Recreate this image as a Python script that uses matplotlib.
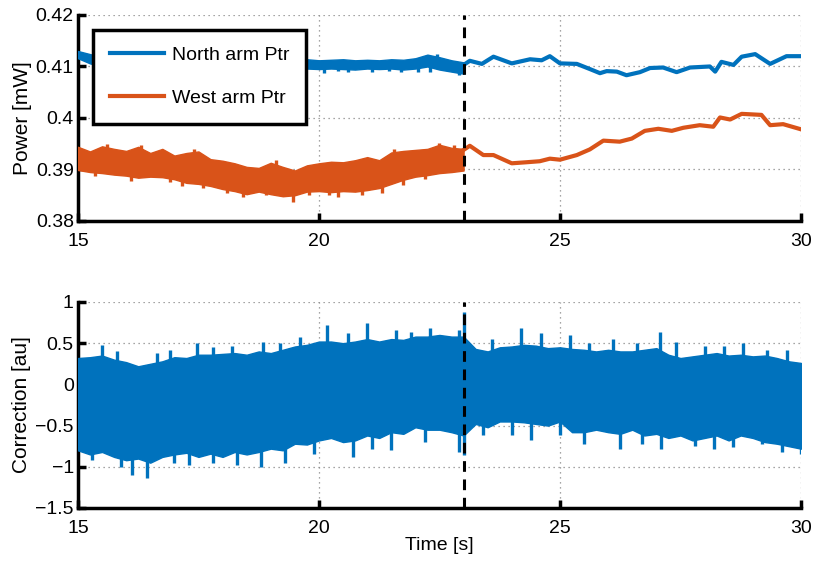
#!/usr/bin/env python3

import numpy as np
from matplotlib import pyplot as plt

blue = "#0072BD"
orange = "#D95319"
tSwitch = 23.0

# --- top panel: noisy part (envelopes read every 0.25 s, 15..23 s)
tBand = [15.0 + 0.25 * i for i in range(33)]

northHi = [0.4130, 0.4124, 0.4118, 0.4115, 0.4114, 0.4115, 0.4113, 0.4114, 0.4115,
           0.4113, 0.4114, 0.4112, 0.4114, 0.4113, 0.4114, 0.4112, 0.4113, 0.4114,
           0.4112, 0.4114, 0.4112, 0.4113, 0.4114, 0.4112, 0.4113, 0.4112, 0.4114,
           0.4113, 0.4116, 0.4123, 0.4118, 0.4112, 0.4108]
northLo = [0.4116, 0.4106, 0.4100, 0.4097, 0.4096, 0.4097, 0.4095, 0.4096, 0.4097,
           0.4095, 0.4096, 0.4095, 0.4096, 0.4095, 0.4096, 0.4095, 0.4096, 0.4095,
           0.4094, 0.4096, 0.4095, 0.4096, 0.4095, 0.4094, 0.4096, 0.4095, 0.4096,
           0.4094, 0.4096, 0.4100, 0.4094, 0.4090, 0.4086]
northSpikes = [[20.1, 0.4088], [20.6, 0.4089], [21.1, 0.4090], [21.7, 0.4089],
               [22.3, 0.4090], [22.9, 0.4083], [22.45, 0.4125], [20.4, 0.4091],
               [21.45, 0.4091], [22.05, 0.4090]]

westHi = [0.3944, 0.3935, 0.3945, 0.3940, 0.3936, 0.3944, 0.3932, 0.3940, 0.3927,
          0.3932, 0.3935, 0.3920, 0.3917, 0.3912, 0.3905, 0.3903, 0.3913, 0.3905,
          0.3898, 0.3908, 0.3912, 0.3915, 0.3914, 0.3918, 0.3924, 0.3918, 0.3933,
          0.3936, 0.3938, 0.3940, 0.3948, 0.3942, 0.3940]
westLo = [0.3899, 0.3895, 0.3893, 0.3890, 0.3888, 0.3884, 0.3886, 0.3885, 0.3881,
          0.3874, 0.3872, 0.3868, 0.3862, 0.3858, 0.3852, 0.3857, 0.3852, 0.3848,
          0.3850, 0.3857, 0.3858, 0.3856, 0.3858, 0.3857, 0.3860, 0.3864, 0.3872,
          0.3880, 0.3886, 0.3889, 0.3893, 0.3895, 0.3898]
westSpikes = [[16.1, 0.3878], [16.9, 0.3876], [17.6, 0.3864], [18.43, 0.3846],
              [18.9, 0.3850], [19.47, 0.3836], [20.4, 0.3847], [20.9, 0.3850],
              [21.3, 0.3855], [21.75, 0.3870], [15.6, 0.3950], [16.3, 0.3948],
              [17.4, 0.3940], [22.5, 0.3952], [15.35, 0.3888], [17.15, 0.3868],
              [18.1, 0.3855], [19.8, 0.3850], [20.2, 0.3850], [22.2, 0.3882],
              [19.1, 0.3918], [21.55, 0.3940], [22.8, 0.3948]]

# --- top panel: after the switch (single traces)
tNorth = [23.0, 23.13, 23.38, 23.62, 24.0, 24.38, 24.62, 24.79, 25.0, 25.35, 25.62,
          25.83, 25.97, 26.18, 26.38, 26.66, 26.87, 27.14, 27.42, 27.7, 28.11, 28.22,
          28.35, 28.6, 28.77, 29.05, 29.36, 29.7, 30.0]
pNorth = [0.4103, 0.4111, 0.4105, 0.4119, 0.4106, 0.4114, 0.4112, 0.4120, 0.4106,
          0.4105, 0.4095, 0.4087, 0.4091, 0.4090, 0.4083, 0.4089, 0.4097, 0.4098,
          0.4089, 0.4098, 0.4100, 0.4090, 0.4109, 0.4103, 0.4119, 0.4124, 0.4105,
          0.4120, 0.4120]
tWest = [23.0, 23.13, 23.41, 23.62, 24.0, 24.3, 24.58, 24.79, 25.0, 25.35, 25.62,
         25.9, 26.24, 26.49, 26.76, 27.04, 27.32, 27.56, 27.9, 28.18, 28.32, 28.53,
         28.77, 29.18, 29.36, 29.63, 30.0]
pWest = [0.3938, 0.3946, 0.3928, 0.3928, 0.3912, 0.3914, 0.3916, 0.3921, 0.3919,
         0.3928, 0.3939, 0.3956, 0.3954, 0.3960, 0.3975, 0.3979, 0.3975, 0.3981,
         0.3986, 0.3983, 0.4001, 0.3997, 0.4008, 0.4006, 0.3986, 0.3988, 0.3978]

# --- bottom panel: correction envelope every 0.25 s, 15..30 s
tCorr = [15.0 + 0.25 * i for i in range(61)]
corrHi = [0.32, 0.33, 0.35, 0.30, 0.27, 0.22, 0.25, 0.28, 0.33, 0.32, 0.36, 0.36,
          0.37, 0.38, 0.36, 0.40, 0.38, 0.42, 0.46, 0.48, 0.52, 0.52, 0.50, 0.52,
          0.55, 0.52, 0.55, 0.54, 0.58, 0.58, 0.60, 0.58, 0.58, 0.43, 0.40, 0.45,
          0.46, 0.48, 0.47, 0.44, 0.45, 0.43, 0.42, 0.40, 0.42, 0.40, 0.40, 0.42,
          0.44, 0.36, 0.32, 0.34, 0.36, 0.38, 0.35, 0.36, 0.34, 0.35, 0.32, 0.28, 0.26]
corrLo = [-0.80, -0.85, -0.82, -0.88, -0.92, -0.90, -0.95, -0.88, -0.85, -0.83,
          -0.88, -0.84, -0.88, -0.82, -0.85, -0.82, -0.78, -0.80, -0.72, -0.73,
          -0.68, -0.65, -0.70, -0.68, -0.62, -0.65, -0.58, -0.60, -0.52, -0.55,
          -0.55, -0.58, -0.62, -0.48, -0.52, -0.45, -0.45, -0.46, -0.48, -0.50,
          -0.45, -0.58, -0.58, -0.55, -0.58, -0.60, -0.55, -0.62, -0.60, -0.65,
          -0.62, -0.68, -0.65, -0.62, -0.68, -0.62, -0.65, -0.70, -0.72, -0.75, -0.78]
corrSpikes = [[15.5, 0.48], [16.65, 0.38], [17.47, 0.50], [17.8, 0.45], [18.84, 0.52],
              [19.6, 0.58], [20.17, 0.72], [20.6, 0.62], [20.99, 0.74], [21.6, 0.66],
              [22.3, 0.68], [22.9, 0.66], [23.0, 0.88], [24.2, 0.68], [24.6, 0.62],
              [25.2, 0.60], [26.1, 0.55], [27.07, 0.64], [27.4, 0.52], [28.0, 0.46],
              [28.8, 0.50], [29.7, 0.42], [15.8, 0.40], [16.9, 0.42], [18.2, 0.46],
              [19.2, 0.50], [21.9, 0.64], [23.6, 0.55], [25.6, 0.50], [26.6, 0.50],
              [28.4, 0.46], [29.3, 0.42],
              [15.9, -1.0], [16.12, -1.10], [16.43, -1.14], [17.3, -0.98], [18.3, -0.98],
              [18.8, -1.0], [19.3, -0.95], [20.7, -0.88], [21.5, -0.80], [22.9, -0.82],
              [23.0, -0.86], [24.0, -0.62], [24.4, -0.68], [25.5, -0.72], [26.24, -0.78],
              [27.1, -0.79], [27.8, -0.75], [28.6, -0.76], [29.2, -0.72], [30.0, -0.84],
              [15.3, -0.92], [17.0, -0.95], [17.8, -0.96], [19.9, -0.85], [21.1, -0.78],
              [22.2, -0.70], [23.4, -0.62], [25.0, -0.62], [26.7, -0.72], [28.2, -0.78],
              [29.6, -0.82]]

plt.rcParams["font.family"] = ["Liberation Sans", "DejaVu Sans"]
plt.rcParams["font.size"] = 13

fig = plt.figure(figsize=(8.13, 5.63), dpi=100)
axTop = fig.add_axes([0.0959, 0.6075, 0.8893, 0.3659])
axBot = fig.add_axes([0.0959, 0.0977, 0.8893, 0.3659])


def drawBand(ax, t, lo, hi, spikes, color):
    ax.fill_between(t, lo, hi, color=color, lw=1.0, edgecolor=color, zorder=3)
    mid = (np.array(lo) + np.array(hi)) / 2
    st = [s[0] for s in spikes]
    sv = [s[1] for s in spikes]
    ax.vlines(st, np.interp(st, t, mid), sv, color=color, lw=2.4, zorder=3)


drawBand(axTop, tBand, northLo, northHi, northSpikes, blue)
drawBand(axTop, tBand, westLo, westHi, westSpikes, orange)
axTop.plot(tNorth, pNorth, color=blue, lw=3.0, zorder=3)
axTop.plot(tWest, pWest, color=orange, lw=3.0, zorder=3)
axTop.plot([], [], color=blue, lw=3.0, label="North arm Ptr")
axTop.plot([], [], color=orange, lw=3.0, label="West arm Ptr")

drawBand(axBot, tCorr, corrLo, corrHi, corrSpikes, blue)

for ax in (axTop, axBot):
    ax.axvline(tSwitch, color="black", lw=2.2, ls=(0, (3.5, 2.5)), zorder=4)
    ax.set_xlim(15, 30)
    ax.set_xticks([15, 20, 25, 30])
    ax.grid(True, color="#888888", ls=(0, (1, 3)), lw=0.9)
    ax.set_axisbelow(True)
    ax.spines["top"].set_visible(False)
    ax.spines["right"].set_visible(False)
    ax.spines["left"].set_linewidth(2.5)
    ax.spines["bottom"].set_linewidth(2.5)
    ax.tick_params(direction="in", length=6, width=2.5, labelsize=14, pad=3)
    ax.tick_params(axis="x", pad=9)

axTop.set_ylim(0.38, 0.42)
axTop.set_yticks([0.38, 0.39, 0.40, 0.41, 0.42])
axTop.set_yticklabels(["0.38", "0.39", "0.4", "0.41", "0.42"])
axTop.set_ylabel("Power [mW]", fontsize=15, labelpad=3)

axBot.set_ylim(-1.5, 1)
axBot.set_yticks([-1.5, -1, -0.5, 0, 0.5, 1])
axBot.set_yticklabels(["\u22121.5", "\u22121", "\u22120.5", "0", "0.5", "1"])
axBot.set_ylabel("Correction [au]", fontsize=15, labelpad=3)
axBot.set_xlabel("Time [s]", fontsize=14, labelpad=0)

leg = axTop.legend(loc="upper left", bbox_to_anchor=(0.021, 0.927), borderaxespad=0,
                   fontsize=14, handlelength=2.8, labelspacing=1.3, borderpad=0.85,
                   handletextpad=0.4, fancybox=False, framealpha=1)
leg.get_frame().set_edgecolor("black")
leg.get_frame().set_linewidth(2.5)
leg.set_zorder(10)

fig.savefig("out.png", dpi=100)
